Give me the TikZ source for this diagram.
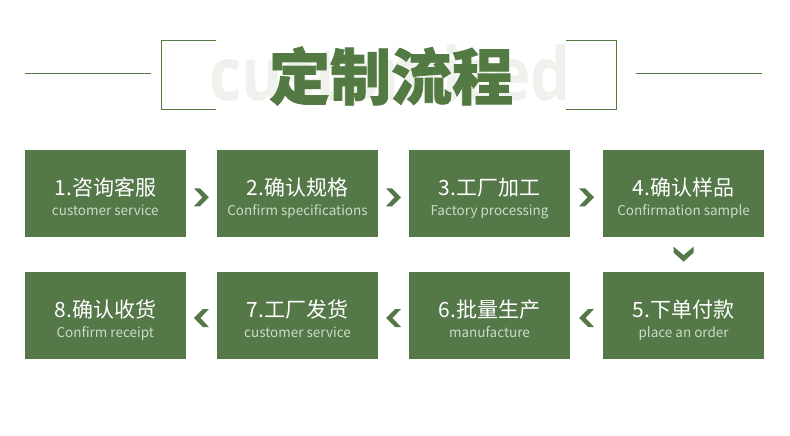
\documentclass[tikz,border=0pt]{standalone}
\usepackage{fontspec}
\newfontfamily\cjk{Noto Sans CJK SC}
\newfontfamily\cjkh{Noto Sans CJK SC}[BoldFeatures={FakeBold=1.3}]
\newfontfamily\wmfont{Open Sans}
\usetikzlibrary{calc}
\definecolor{bgreen}{RGB}{85,120,72}
\definecolor{tgreen}{RGB}{82,122,66}
\definecolor{subc}{RGB}{205,218,200}
\definecolor{wmgray}{RGB}{238,241,236}
\tikzset{
  stepbox/.style={fill=bgreen, draw=none, minimum width=161pt, minimum height=87pt, inner sep=0pt},
  maintxt/.style={text=white, font=\cjk\fontsize{21}{25}\selectfont, anchor=base, inner sep=0pt},
  subtxt/.style={text=subc, font=\cjk\fontsize{13.5}{16}\selectfont, anchor=base, inner sep=0pt},
  deco/.style={draw=tgreen, line width=1.3pt},
  rchev/.pic={\fill[bgreen] (-7.5,-9)--(1,0)--(-7.5,9)--(-1.5,9)--(7.5,0)--(-1.5,-9)--cycle;},
  lchev/.pic={\fill[bgreen] (7.5,-9)--(-1,0)--(7.5,9)--(1.5,9)--(-7.5,0)--(1.5,-9)--cycle;},
  dchev/.pic={\fill[bgreen] (-10,-7.5)--(0,1)--(10,-7.5)--(10,-1.5)--(0,7.5)--(-10,-1.5)--cycle;}
}
\begin{document}
\begin{tikzpicture}[x=1pt,y=-1pt]
\useasboundingbox (0,0) rectangle (790,436);
\fill[white] (0,0) rectangle (790,436);
% title area
\node[anchor=base west, inner sep=0pt, text=wmgray] (wm) at (209,100)
  {\resizebox{361pt}{56pt}{\wmfont\bfseries customized}};
\node[text=tgreen, inner sep=0pt, font=\cjkh\bfseries\fontsize{61}{61}\selectfont] (title) at (391,76) {定制流程};
\draw[deco] (25,73.3) -- (150.7,73.3);
\draw[deco] (215.7,40.3) -- (161.7,40.3) -- (161.7,109.3) -- (215.7,109.3);
\draw[deco] (566,40.3) -- (616.7,40.3) -- (616.7,109.3) -- (566,109.3);
\draw[deco] (636,73.3) -- (761.7,73.3);
% boxes
\node[stepbox] (b1) at (105.3,193.3) {};
\node[stepbox] (b2) at (297.5,193.3) {};
\node[stepbox] (b3) at (489.5,193.3) {};
\node[stepbox] (b4) at (683.6,193.3) {};
\node[stepbox] (b5) at (683.6,315) {};
\node[stepbox] (b6) at (489.5,315) {};
\node[stepbox] (b7) at (297.5,315) {};
\node[stepbox] (b8) at (105.3,315) {};
% labels
\node[maintxt] (t1) at ($(b1.center)+(0,2.5)$) {1.咨询客服};
\node[subtxt]  (s1) at ($(b1.center)+(0,22.5)$) {customer service};
\node[maintxt] (t2) at ($(b2.center)+(0,2.5)$) {2.确认规格};
\node[subtxt]  (s2) at ($(b2.center)+(0,22.5)$) {Confirm specifications};
\node[maintxt] (t3) at ($(b3.center)+(0,2.5)$) {3.工厂加工};
\node[subtxt]  (s3) at ($(b3.center)+(0,22.5)$) {Factory processing};
\node[maintxt] (t4) at ($(b4.center)+(0,2.5)$) {4.确认样品};
\node[subtxt]  (s4) at ($(b4.center)+(0,22.5)$) {Confirmation sample};
\node[maintxt] (t5) at ($(b5.center)+(0,2.5)$) {5.下单付款};
\node[subtxt]  (s5) at ($(b5.center)+(0,22.5)$) {place an order};
\node[maintxt] (t6) at ($(b6.center)+(0,2.5)$) {6.批量生产};
\node[subtxt]  (s6) at ($(b6.center)+(0,22.5)$) {manufacture};
\node[maintxt] (t7) at ($(b7.center)+(0,2.5)$) {7.工厂发货};
\node[subtxt]  (s7) at ($(b7.center)+(0,22.5)$) {customer service};
\node[maintxt] (t8) at ($(b8.center)+(0,2.5)$) {8.确认收货};
\node[subtxt]  (s8) at ($(b8.center)+(0,22.5)$) {Confirm receipt};
% chevrons
\coordinate (c12) at ($(b1.east)!0.5!(b2.west)+(0,4)$);
\coordinate (c23) at ($(b2.east)!0.5!(b3.west)+(0,4)$);
\coordinate (c34) at ($(b3.east)!0.5!(b4.west)+(0,4)$);
\coordinate (c45) at ($(b4.south)!0.5!(b5.north)$);
\coordinate (c56) at ($(b6.east)!0.5!(b5.west)+(0,3)$);
\coordinate (c67) at ($(b7.east)!0.5!(b6.west)+(0,3)$);
\coordinate (c78) at ($(b8.east)!0.5!(b7.west)+(0,3)$);
\pic at (c12) {rchev};
\pic at (c23) {rchev};
\pic at (c34) {rchev};
\pic at (c45) {dchev};
\pic at (c56) {lchev};
\pic at (c67) {lchev};
\pic at (c78) {lchev};
\end{tikzpicture}
\end{document}
